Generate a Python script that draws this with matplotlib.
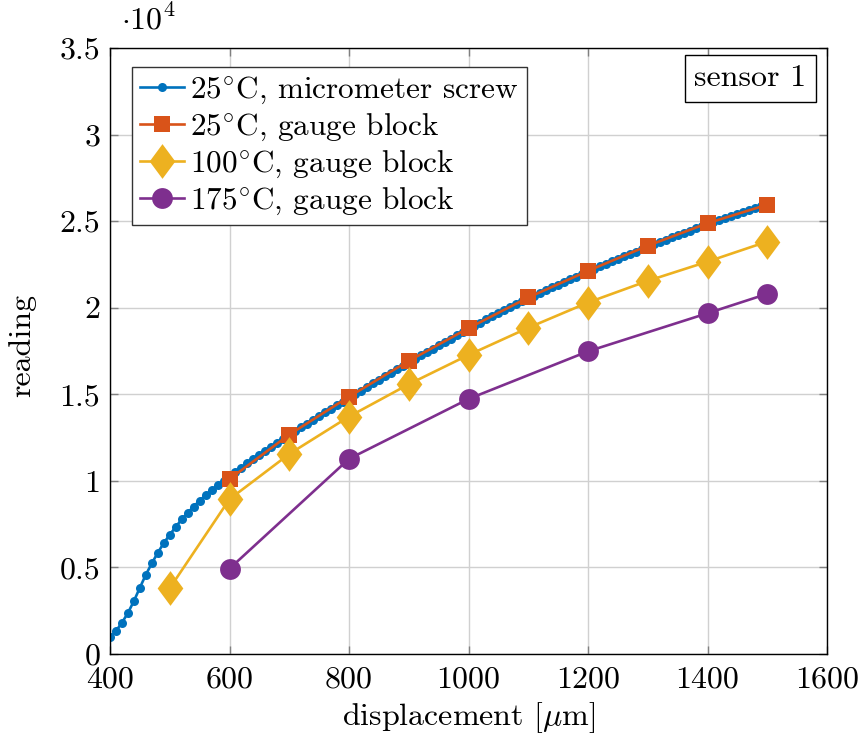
import matplotlib
matplotlib.use("Agg")
import matplotlib.pyplot as plt
from matplotlib.path import Path
import numpy as np

plt.rcParams['font.family'] = 'serif'
plt.rcParams['font.serif'] = ['cmr10']
plt.rcParams['mathtext.fontset'] = 'cm'
plt.rcParams['axes.formatter.use_mathtext'] = True

# ---------------- data ----------------
x_screw = list(range(400, 1501, 10))
y_screw = [
    0.097, 0.133, 0.181, 0.237, 0.306, 0.383, 0.458, 0.524, 0.585, 0.641,
    0.689, 0.734, 0.778, 0.816, 0.851, 0.886, 0.917, 0.946, 0.975, 1.000,
    1.024, 1.050, 1.076, 1.101, 1.126, 1.150, 1.174, 1.197, 1.220, 1.243,
    1.265, 1.287, 1.309, 1.331, 1.353, 1.374, 1.395, 1.416, 1.437, 1.458,
    1.478, 1.500, 1.521, 1.542, 1.563, 1.584, 1.604, 1.625, 1.645, 1.665,
    1.685, 1.705, 1.725, 1.744, 1.764, 1.783, 1.802, 1.821, 1.840, 1.859,
    1.878, 1.896, 1.914, 1.932, 1.950, 1.968, 1.985, 2.003, 2.020, 2.037,
    2.054, 2.070, 2.086, 2.102, 2.118, 2.134, 2.149, 2.164, 2.179, 2.194,
    2.209, 2.224, 2.239, 2.253, 2.268, 2.282, 2.296, 2.310, 2.324, 2.338,
    2.352, 2.366, 2.379, 2.393, 2.406, 2.419, 2.432, 2.445, 2.458, 2.470,
    2.483, 2.495, 2.507, 2.519, 2.531, 2.543, 2.554, 2.565, 2.576, 2.587,
    2.598,
]  # in units of 1e4

x_gb25 = [600, 700, 800, 900, 1000, 1100, 1200, 1300, 1400, 1500]
y_gb25 = [1.010, 1.267, 1.486, 1.693, 1.882, 2.059, 2.213, 2.358, 2.488, 2.595]

x_gb100 = [500, 600, 700, 800, 900, 1000, 1100, 1200, 1300, 1400, 1500]
y_gb100 = [0.380, 0.894, 1.155, 1.371, 1.558, 1.727, 1.884, 2.030, 2.155, 2.266, 2.382]

x_gb175 = [600, 800, 1000, 1200, 1400, 1500]
y_gb175 = [0.493, 1.127, 1.473, 1.748, 1.968, 2.080]

labels = ['25$^{\\circ}$C, micrometer screw',
          '25$^{\\circ}$C, gauge block',
          '100$^{\\circ}$C, gauge block',
          '175$^{\\circ}$C, gauge block']

x_ticks = [400, 600, 800, 1000, 1200, 1400, 1600]
y_ticks = [0, 0.5, 1, 1.5, 2, 2.5, 3, 3.5]
y_tick_labels = ['0', '0.5', '1', '1.5', '2', '2.5', '3', '3.5']
scale = 1e4

colors = ['#0072BD', '#D95319', '#EDB120', '#7E2F8E']

FS = 23
LW = 1.9

# ---------------- figure ----------------
fig = plt.figure(figsize=(8.61, 7.42), dpi=100)
ax = fig.add_axes([110/861, 1-654/742, (827-110)/861, (654-48)/742])

diamond = Path([(0, 1), (0.74, 0), (0, -1), (-0.74, 0), (0, 1)],
               [Path.MOVETO, Path.LINETO, Path.LINETO, Path.LINETO, Path.CLOSEPOLY])

ax.plot(x_screw, np.array(y_screw)*scale, '-', color=colors[0], lw=LW,
        marker='o', ms=6.5, mew=0, label=labels[0])
ax.plot(x_gb25, np.array(y_gb25)*scale, '-', color=colors[1], lw=LW,
        marker='s', ms=11.5, mew=0, label=labels[1])
ax.plot(x_gb100, np.array(y_gb100)*scale, '-', color=colors[2], lw=LW,
        marker=diamond, ms=25, mew=0, label=labels[2])
ax.plot(x_gb175, np.array(y_gb175)*scale, '-', color=colors[3], lw=LW,
        marker='o', ms=15, mew=0, label=labels[3])

ax.set_xlim(400, 1600)
ax.set_ylim(0, 3.5*scale)
ax.set_xticks(x_ticks)
ax.set_xticklabels([str(t) for t in x_ticks])
ax.set_yticks([t*scale for t in y_ticks])
ax.set_yticklabels(y_tick_labels)
ax.grid(True, color='#d0d0d0', lw=1.0)
ax.set_axisbelow(True)
ax.tick_params(direction='in', top=True, right=True, length=6, width=1,
               color='#808080', labelsize=FS)
ax.tick_params(axis='y', pad=7)
ax.tick_params(axis='x', pad=9)
for s in ax.spines.values():
    s.set_linewidth(1.0)
    s.set_color('black')

ax.set_xlabel('displacement [$\\mu$m]', fontsize=FS)
ax.xaxis.set_label_coords((468.5-110)/717, -(718-654)/606)
ax.set_ylabel('reading', fontsize=FS)
ax.yaxis.set_label_coords(-(110-22)/717, (654-345)/606)
ax.xaxis.label.set_va('center')
ax.yaxis.label.set_va('center')

fig.text(121/861, 1-19/742, '$\\cdot 10^{4}$', fontsize=FS, ha='left', va='center')

leg = ax.legend(loc='upper left', bbox_to_anchor=(22/717, (654-67)/606),
                fontsize=22.5, frameon=True, fancybox=False,
                edgecolor='#333333', framealpha=1, handlelength=1.4,
                handletextpad=0.22, labelspacing=0.18, borderpad=0.25,
                borderaxespad=0.0, markerscale=1.0)
leg.get_frame().set_linewidth(1.0)

ax.text((750.5-110)/717, (654-78.5)/606, 'sensor 1', transform=ax.transAxes,
        fontsize=FS, ha='center', va='center',
        bbox=dict(boxstyle='square,pad=0.3', fc='white', ec='black', lw=1.0))

fig.savefig('out.png', dpi=100)
